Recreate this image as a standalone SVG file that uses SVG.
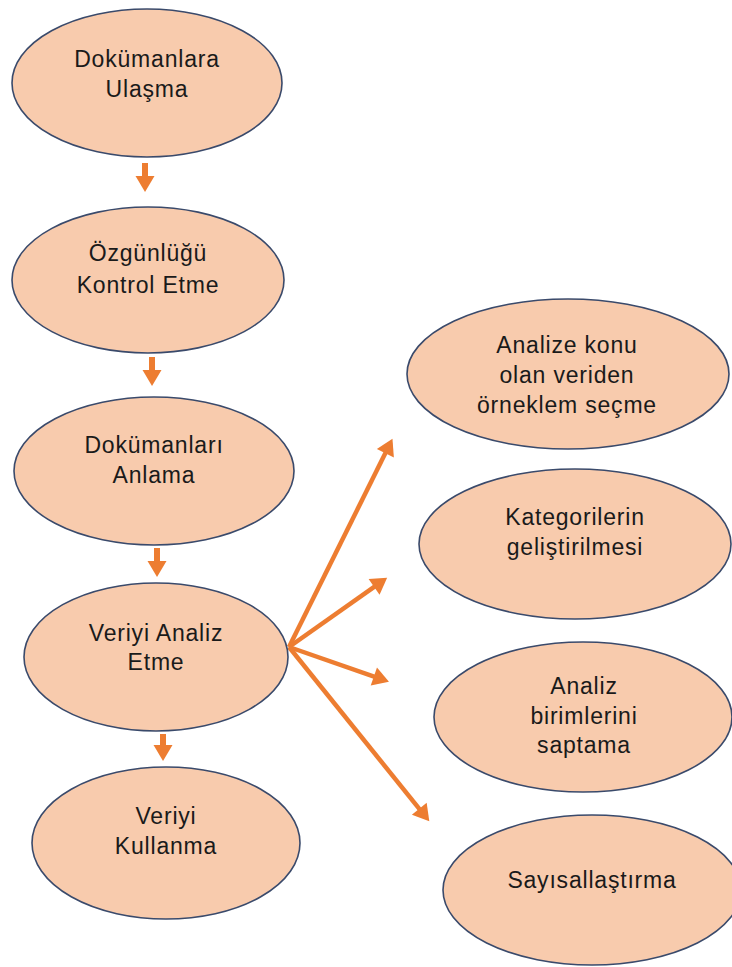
<svg xmlns="http://www.w3.org/2000/svg" width="732" height="967" viewBox="0 0 732 967">
  <style>
    .node ellipse { fill: #F8CBAD; stroke: #3A4A6B; stroke-width: 1.6; }
    .node text { font-family: "Liberation Sans", Arial, sans-serif; font-size: 23px; fill: #1A1A1A; text-anchor: middle; letter-spacing: 0.8px; }
    .conn { stroke: #ED7D31; stroke-width: 4.5; fill: none; marker-end: url(#ah); }
    .conn.v { stroke-width: 6; }
  </style>
  <defs>
    <marker id="ah" markerUnits="userSpaceOnUse" markerWidth="20" markerHeight="20" refX="1" refY="9.5" orient="auto" overflow="visible">
      <path d="M0,0 L16,9.5 L0,19 z" fill="#ED7D31"/>
    </marker>
  </defs>
  <rect width="732" height="967" fill="#FFFFFF"/>

  <g id="connectors">
    <line class="conn v" x1="145" y1="163" x2="145" y2="177"/>
    <line class="conn v" x1="152" y1="357" x2="152" y2="371"/>
    <line class="conn v" x1="157" y1="548" x2="157" y2="562"/>
    <line class="conn v" x1="163" y1="734" x2="163" y2="746"/>
    <line class="conn" x1="289" y1="647" x2="385.8" y2="452.3"/>
    <line class="conn" x1="289" y1="647" x2="374.9" y2="586.3"/>
    <line class="conn" x1="289" y1="647" x2="374.8" y2="676.9"/>
    <line class="conn" x1="289" y1="647" x2="419.9" y2="809.6"/>
  </g>

  <g id="n1" class="node">
    <ellipse cx="147" cy="83" rx="135" ry="74"/>
    <text x="147" y="67">Dokümanlara</text>
    <text x="147" y="97">Ulaşma</text>
  </g>
  <g id="n2" class="node">
    <ellipse cx="148" cy="280" rx="136" ry="73"/>
    <text x="148" y="261">Özgünlüğü</text>
    <text x="148" y="293">Kontrol Etme</text>
  </g>
  <g id="n3" class="node">
    <ellipse cx="154" cy="471" rx="140" ry="74"/>
    <text x="154" y="453">Dokümanları</text>
    <text x="154" y="483">Anlama</text>
  </g>
  <g id="n4" class="node">
    <ellipse cx="156" cy="657" rx="132" ry="74"/>
    <text x="156" y="641">Veriyi Analiz</text>
    <text x="156" y="670">Etme</text>
  </g>
  <g id="n5" class="node">
    <ellipse cx="166" cy="843" rx="134" ry="76"/>
    <text x="166" y="824">Veriyi</text>
    <text x="166" y="854">Kullanma</text>
  </g>
  <g id="n6" class="node">
    <ellipse cx="568" cy="374" rx="161" ry="75"/>
    <text x="567" y="353">Analize konu</text>
    <text x="567" y="383">olan veriden</text>
    <text x="567" y="413">örneklem seçme</text>
  </g>
  <g id="n7" class="node">
    <ellipse cx="575" cy="544" rx="156" ry="75"/>
    <text x="575" y="525">Kategorilerin</text>
    <text x="575" y="555">geliştirilmesi</text>
  </g>
  <g id="n8" class="node">
    <ellipse cx="583" cy="717" rx="149" ry="75"/>
    <text x="584" y="694">Analiz</text>
    <text x="584" y="724">birimlerini</text>
    <text x="584" y="753">saptama</text>
  </g>
  <g id="n9" class="node">
    <ellipse cx="592" cy="890" rx="149" ry="75"/>
    <text x="592" y="888">Sayısallaştırma</text>
  </g>
</svg>
